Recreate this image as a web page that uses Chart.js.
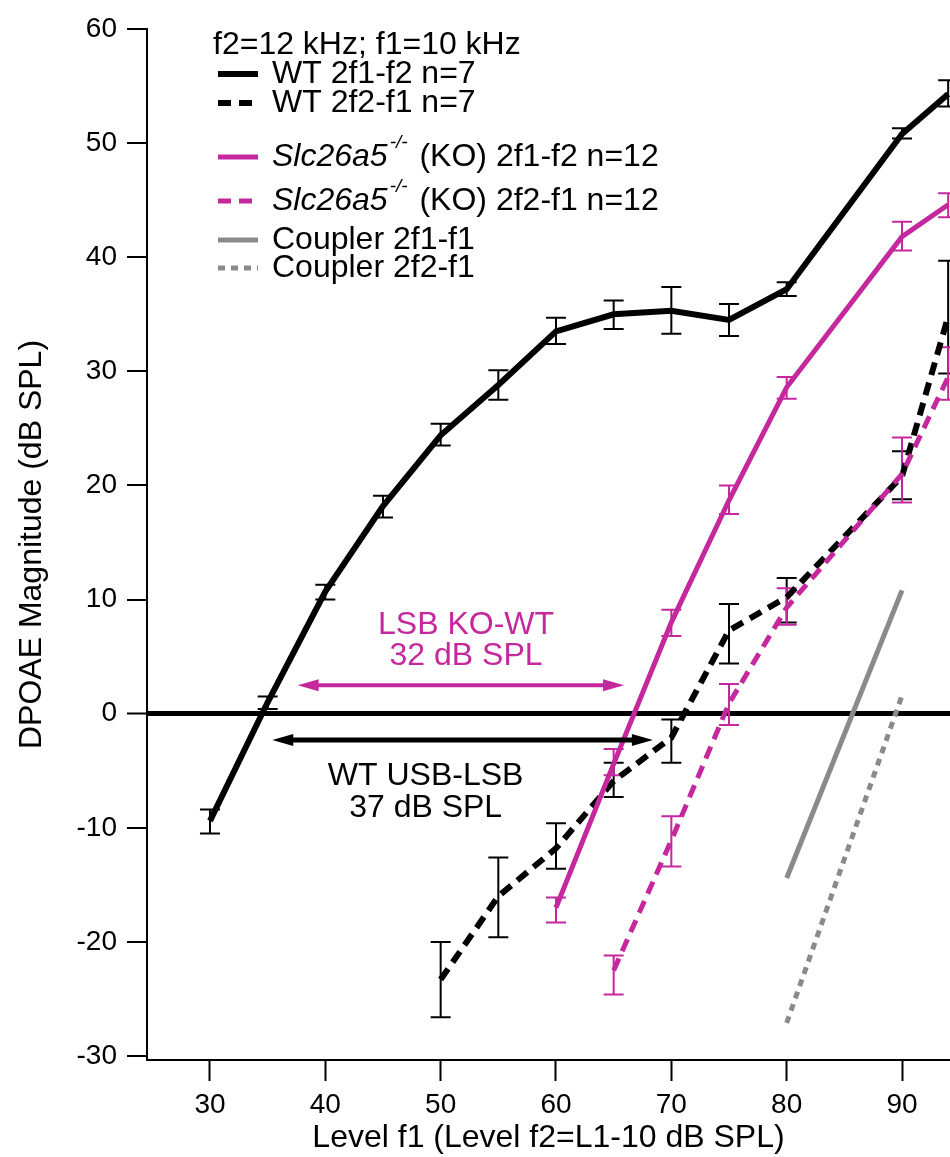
<!DOCTYPE html>
<html lang="en">
<head>
<meta charset="UTF-8">
<title>DPOAE growth</title>
<script src="https://cdn.jsdelivr.net/npm/chart.js"></script>
<style>
  body { margin: 0; background: #fff; overflow: hidden; }
  #wrap { width: 950px; height: 1157px; }
</style>
</head>
<body>
<div id="wrap"><canvas id="dpoae" width="950" height="1157"></canvas></div>
<script>
// axis ticks
const xTicks = [30, 40, 50, 60, 70, 80, 90];
const yTicks = [-30, -20, -10, 0, 10, 20, 30, 40, 50, 60];

// WT 2f1-f2 (n=7)
const wtLevels1 = [30, 35, 40, 45, 50, 55, 60, 65, 70, 75, 80, 90, 94];
const wt21 =   [-9.4, 1.0, 10.7, 18.2, 24.4, 28.8, 33.5, 35.0, 35.3, 34.5, 37.2, 50.8, 54.3];
const wt21Hi = [-8.4, 1.5, 11.3, 19.1, 25.4, 30.1, 34.7, 36.2, 37.4, 35.9, 37.8, 51.3, 55.5];
const wt21Lo = [-10.5, 0.4, 10.0, 17.2, 23.5, 27.5, 32.4, 33.7, 33.3, 33.1, 36.6, 50.4, 53.2];

// WT 2f2-f1 (n=7)
const wtLevels2 = [50, 55, 60, 65, 70, 75, 80, 90, 94];
const wt22 =   [-23.3, -16.0, -11.8, -5.9, -2.1, 7.3, 10.2, 20.8, 34.8];
const wt22Hi = [-20.0, -12.6, -9.6, -4.3, -0.5, 9.6, 11.9, 23.0, 39.7];
const wt22Lo = [-26.6, -19.6, -13.6, -7.3, -4.3, 4.4, 8.0, 18.8, 29.8];

// Slc26a5-/- 2f1-f2 (n=12)
const koLevels1 = [60, 65, 70, 75, 80, 90, 94];
const ko21 =   [-17.0, -4.4, 8.0, 18.7, 28.6, 41.8, 44.6];
const ko21Hi = [-16.1, -3.1, 9.1, 20.0, 29.5, 43.1, 45.6];
const ko21Lo = [-18.3, -5.4, 6.8, 17.5, 27.6, 40.6, 43.5];

// Slc26a5-/- 2f2-f1 (n=12)
const koLevels2 = [65, 70, 75, 80, 90, 94];
const ko22 =   [-22.5, -11.1, 0.9, 9.3, 21.0, 29.5];
const ko22Hi = [-21.2, -9.0, 2.6, 11.0, 24.2, 32.1];
const ko22Lo = [-24.6, -13.4, -1.0, 7.8, 18.5, 27.5];

// coupler
const couplerLevels = [80, 90];
const coupler21 = [-14.4, 10.8];
const coupler22 = [-27.1, 1.6];

// annotation arrows (x from, x to, y) in data units
const lsbArrow = [37.6, 65.9, 2.5];
const usbArrow = [35.4, 68.4, -2.3];

const MAGENTA = '#c4289c';
const GRAY = '#8a8a8a';
const FONT = "'Liberation Sans', Arial, Helvetica, sans-serif";

function pts(xs, ys) {
  return xs.map((x, i) => ({ x: x, y: ys[i] }));
}

const series = [
  { label: 'WT 2f1-f2 n=7', data: pts(wtLevels1, wt21), hi: wt21Hi, lo: wt21Lo,
    borderColor: '#000', borderWidth: 6, borderDash: [], order: 2 },
  { label: 'WT 2f2-f1 n=7', data: pts(wtLevels2, wt22), hi: wt22Hi, lo: wt22Lo,
    borderColor: '#000', borderWidth: 6, borderDash: [13, 8], order: 2 },
  { label: 'KO 2f1-f2 n=12', data: pts(koLevels1, ko21), hi: ko21Hi, lo: ko21Lo,
    borderColor: MAGENTA, borderWidth: 5, borderDash: [], order: 1 },
  { label: 'KO 2f2-f1 n=12', data: pts(koLevels2, ko22), hi: ko22Hi, lo: ko22Lo,
    borderColor: MAGENTA, borderWidth: 5, borderDash: [13, 8], order: 1 },
  { label: 'Coupler 2f1-f1', data: pts(couplerLevels, coupler21),
    borderColor: GRAY, borderWidth: 5, borderDash: [], order: 3 },
  { label: 'Coupler 2f2-f1', data: pts(couplerLevels, coupler22),
    borderColor: GRAY, borderWidth: 5, borderDash: [7, 6], order: 3 }
];

// legend text, split into plain / italic / superscript runs
const legendRows = [
  { ds: 0, y: 74, parts: [['WT 2f1-f2 n=7']] },
  { ds: 1, y: 103, parts: [['WT 2f2-f1 n=7']] },
  { ds: 2, y: 157, parts: [['Slc26a5', 'i'], ['-/-', 's'], [' (KO) 2f1-f2 n=12']] },
  { ds: 3, y: 201, parts: [['Slc26a5', 'i'], ['-/-', 's'], [' (KO) 2f2-f1 n=12']] },
  { ds: 4, y: 240, parts: [['Coupler 2f1-f1']] },
  { ds: 5, y: 268, parts: [['Coupler 2f2-f1']] }
];

const errorBars = {
  id: 'errorBars',
  beforeDatasetsDraw(chart) {
    const { ctx, scales: { x, y } } = chart;
    chart.data.datasets.forEach(ds => {
      if (!ds.hi) return;
      ctx.save();
      ctx.strokeStyle = ds.borderColor;
      ctx.lineWidth = 2;
      ds.data.forEach((p, i) => {
        const px = x.getPixelForValue(p.x);
        const top = y.getPixelForValue(ds.hi[i]);
        const bot = y.getPixelForValue(ds.lo[i]);
        ctx.beginPath();
        ctx.moveTo(px, top); ctx.lineTo(px, bot);
        ctx.moveTo(px - 10, top); ctx.lineTo(px + 10, top);
        ctx.moveTo(px - 10, bot); ctx.lineTo(px + 10, bot);
        ctx.stroke();
      });
      ctx.restore();
    });
  }
};

function arrow(ctx, x1, x2, yy, color, w) {
  ctx.save();
  ctx.strokeStyle = color;
  ctx.fillStyle = color;
  ctx.lineWidth = w;
  ctx.beginPath();
  ctx.moveTo(x1 + 10, yy); ctx.lineTo(x2 - 10, yy);
  ctx.stroke();
  [[x1, 1], [x2, -1]].forEach(([tip, dir]) => {
    ctx.beginPath();
    ctx.moveTo(tip, yy);
    ctx.lineTo(tip + dir * 21, yy - 6);
    ctx.lineTo(tip + dir * 21, yy + 6);
    ctx.closePath();
    ctx.fill();
  });
  ctx.restore();
}

const notes = {
  id: 'notes',
  afterDatasetsDraw(chart) {
    const { ctx, scales: { x, y } } = chart;
    arrow(ctx, x.getPixelForValue(lsbArrow[0]), x.getPixelForValue(lsbArrow[1]),
          y.getPixelForValue(lsbArrow[2]), MAGENTA, 4);
    arrow(ctx, x.getPixelForValue(usbArrow[0]), x.getPixelForValue(usbArrow[1]),
          y.getPixelForValue(usbArrow[2]), '#000', 5);

    ctx.save();
    ctx.font = '32px ' + FONT;
    ctx.textAlign = 'center';
    ctx.textBaseline = 'alphabetic';
    ctx.fillStyle = MAGENTA;
    ctx.fillText('LSB KO-WT', x.getPixelForValue(52.2), y.getPixelForValue(7.0));
    ctx.fillText('32 dB SPL', x.getPixelForValue(52.2), y.getPixelForValue(4.25));
    ctx.fillStyle = '#000';
    ctx.fillText('WT USB-LSB', x.getPixelForValue(48.7), y.getPixelForValue(-6.25));
    ctx.fillText('37 dB SPL', x.getPixelForValue(48.7), y.getPixelForValue(-9.05));
    ctx.restore();
  }
};

const legendBox = {
  id: 'legendBox',
  afterDraw(chart) {
    const ctx = chart.ctx;
    const size = 32;
    ctx.save();
    ctx.textBaseline = 'middle';
    ctx.fillStyle = '#000';
    ctx.font = size + 'px ' + FONT;
    ctx.fillText('f2=12 kHz; f1=10 kHz', 213, 45);
    legendRows.forEach(row => {
      const ds = chart.data.datasets[row.ds];
      ctx.strokeStyle = ds.borderColor;
      ctx.lineWidth = ds.borderWidth;
      ctx.setLineDash(ds.borderDash);
      ctx.beginPath();
      ctx.moveTo(218, row.y);
      ctx.lineTo(258, row.y);
      ctx.stroke();
      ctx.setLineDash([]);
      let tx = 272;
      row.parts.forEach(([t, kind]) => {
        if (kind === 's') {
          ctx.font = 'italic 19px ' + FONT;
          ctx.fillText(t, tx + 2, row.y - 14);
          tx += ctx.measureText(t).width + 5;
        } else {
          ctx.font = (kind === 'i' ? 'italic ' : '') + size + 'px ' + FONT;
          ctx.fillText(t, tx, row.y);
          tx += ctx.measureText(t).width;
        }
      });
    });
    ctx.restore();
  }
};

new Chart(document.getElementById('dpoae'), {
  type: 'line',
  data: {
    datasets: series.map(s => Object.assign({
      fill: false,
      tension: 0,
      pointRadius: 0,
      pointHoverRadius: 0,
      borderCapStyle: 'butt'
    }, s))
  },
  options: {
    responsive: false,
    devicePixelRatio: 1,
    animation: false,
    layout: { padding: { top: 29, left: 0, right: 0, bottom: 0 } },
    plugins: {
      legend: { display: false },
      tooltip: { enabled: false }
    },
    scales: {
      x: {
        type: 'linear',
        min: 24.54,
        max: 94.16,
        afterFit: s => { s.height = 97; },
        afterBuildTicks: s => { s.ticks = xTicks.map(v => ({ value: v })); },
        border: { display: true, color: '#000', width: 2 },
        grid: { drawOnChartArea: false, tickLength: 21, tickColor: '#000', tickWidth: 2 },
        ticks: {
          color: '#000', padding: 7, maxRotation: 0, autoSkip: false,
          font: { family: FONT, size: 28 },
          callback: v => String(v)
        },
        title: {
          display: true, text: 'Level f1 (Level f2=L1-10 dB SPL)', color: '#000',
          font: { family: FONT, size: 32 }, padding: { top: 0, bottom: 0 }
        }
      },
      y: {
        type: 'linear',
        min: -30.35,
        max: 60,
        afterFit: s => { s.width = 147; },
        afterBuildTicks: s => { s.ticks = yTicks.map(v => ({ value: v })); },
        border: { display: true, color: '#000', width: 2 },
        grid: {
          drawOnChartArea: true,
          color: c => (c.tick && c.tick.value === 0 ? '#000' : 'rgba(0,0,0,0)'),
          lineWidth: c => (c.tick && c.tick.value === 0 ? 5 : 0),
          tickLength: 20, tickColor: '#000', tickWidth: 2
        },
        ticks: {
          color: '#000', padding: 10,
          font: { family: FONT, size: 28 },
          callback: v => String(v)
        },
        title: {
          display: true, text: 'DPOAE Magnitude (dB SPL)', color: '#000',
          font: { family: FONT, size: 32 }, padding: { top: 13, bottom: 0 }
        }
      }
    }
  },
  plugins: [errorBars, notes, legendBox]
});
</script>
</body>
</html>
